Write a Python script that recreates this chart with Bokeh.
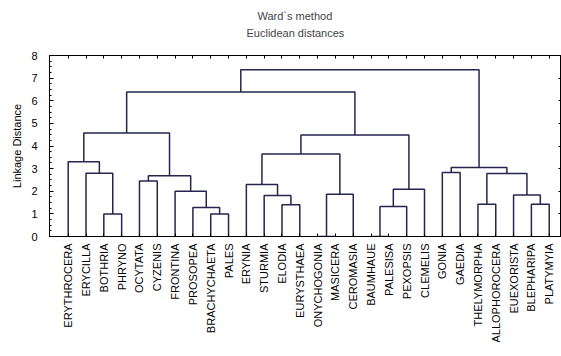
import math
from bokeh.plotting import figure
from bokeh.models import Range1d, FixedTicker, LinearAxis, Title
from bokeh.embed import file_html
from bokeh.resources import INLINE

# leaves in dendrogram order
labels = ["ERYTHROCERA", "ERYCILLA", "BOTHRIA", "PHRYNO", "OCYTATA", "CYZENIS",
          "FRONTINA", "PROSOPEA", "BRACHYCHAETA", "PALES", "ERYNIA", "STURMIA",
          "ELODIA", "EURYSTHAEA", "ONYCHOGONIA", "MASICERA", "CEROMASIA", "BAUMHAUE",
          "PALESISA", "PEXOPSIS", "CLEMELIS", "GONIA", "GAEDIA", "THELYMORPHA",
          "ALLOPHOROCERA", "EUEXORISTA", "BLEPHARIPA", "PLATYMYIA"]

# linkage: node ids 0..27 are leaves, merge k creates node 28+k
merge_a = [2, 1, 0, 4, 8, 7, 6, 31, 30, 12, 11, 10, 14, 40, 39, 17, 43, 44, 42, 36,
           21, 23, 26, 25, 49, 48, 47]
merge_b = [3, 28, 29, 5, 9, 32, 33, 34, 35, 13, 37, 38, 15, 16, 41, 18, 19, 20, 45, 46,
           22, 24, 27, 50, 51, 52, 53]
merge_h = [1.0, 2.80, 3.30, 2.45, 1.0, 1.28, 2.0, 2.68, 4.57, 1.40, 1.81, 2.30, 0.0, 1.87,
           3.65, 0.0, 1.33, 2.09, 4.49, 6.39, 2.83, 1.43, 1.43, 1.83, 2.78, 3.05, 7.37]

y_ticks = [0, 1, 2, 3, 4, 5, 6, 7, 8]

n = len(labels)
leaf_pos = list(range(1, n + 1))
pos = {i: leaf_pos[i] for i in range(n)}
hgt = {i: 0.0 for i in range(n)}
xs, ys = [], []
for k, (a, b, h) in enumerate(zip(merge_a, merge_b, merge_h)):
    xa, xb = pos[a], pos[b]
    xs.append([xa, xa, xb, xb])
    ys.append([hgt[a], h, h, hgt[b]])
    pos[n + k] = (xa + xb) / 2.0
    hgt[n + k] = h

FONT = "Liberation Sans"

p = figure(width=561, height=356, output_backend="svg", toolbar_location=None,
           x_range=Range1d(-0.05, 28.69), y_range=Range1d(0, 8),
           min_border_left=49, min_border_right=0, min_border_bottom=120, min_border_top=55,
           title="Ward`s method")
p.title.text_font = FONT
p.title.text_font_size = "11px"
p.title.text_font_style = "normal"
p.title.align = "left"
p.title.offset = 208
p.title.standoff = 4

p.xgrid.visible = False
p.ygrid.visible = False
p.outline_line_color = "black"

p.multi_line(xs=xs, ys=ys, line_color="#25254f", line_width=1.5)

# bottom axis
xa_ = p.xaxis[0]
xa_.ticker = FixedTicker(ticks=leaf_pos)
xa_.major_label_overrides = {leaf_pos[i]: labels[i] for i in range(n)}
xa_.major_label_orientation = math.pi / 2
xa_.major_label_text_font = FONT
xa_.major_label_text_font_size = "11px"
xa_.major_label_text_color = "black"
xa_.major_label_standoff = 7
xa_.major_tick_in = 3
xa_.major_tick_out = 0
xa_.minor_tick_in = 0
xa_.minor_tick_out = 0
xa_.axis_line_color = "black"

# left axis
ya = p.yaxis[0]
ya.ticker = FixedTicker(ticks=y_ticks, minor_ticks=[i * 0.25 for i in range(33)])
ya.major_label_text_font = FONT
ya.major_label_text_font_size = "11px"
ya.major_label_text_color = "black"
ya.major_label_standoff = 12
ya.major_tick_in = 4
ya.major_tick_out = 0
ya.minor_tick_in = 2
ya.minor_tick_out = 0
ya.axis_label = "Linkage Distance"
ya.axis_label_text_font = FONT
ya.axis_label_text_font_size = "11px"
ya.axis_label_text_font_style = "normal"
ya.axis_label_text_color = "black"
ya.axis_label_standoff = 5
ya.axis_line_color = "black"

# top axis (ticks only)
top = LinearAxis(ticker=FixedTicker(ticks=leaf_pos), major_tick_in=3, major_tick_out=0,
                 minor_tick_in=0, minor_tick_out=0, major_label_text_font_size="0px",
                 major_label_standoff=0, axis_line_color="black")
p.add_layout(top, "above")

# invisible spacer between frame and subtitle
spacer = LinearAxis(ticker=FixedTicker(ticks=[1]), major_tick_in=0, major_tick_out=16,
                    minor_tick_in=0, minor_tick_out=0, major_label_text_font_size="0px",
                    major_label_standoff=0, axis_line_alpha=0, major_tick_line_alpha=0,
                    minor_tick_line_alpha=0)
p.add_layout(spacer, "above")

# right axis (ticks only)
right = LinearAxis(ticker=FixedTicker(ticks=y_ticks), major_tick_in=3, major_tick_out=0,
                   minor_tick_in=0, minor_tick_out=0, major_label_text_font_size="0px",
                   major_label_standoff=0, axis_line_color="black")
p.add_layout(right, "right")

sub = Title(text="Euclidean distances", text_font=FONT, text_font_size="11px",
            text_font_style="normal", align="left", offset=197, standoff=2)
p.add_layout(sub, "above")

open("out.html", "w").write(file_html(p, INLINE))
